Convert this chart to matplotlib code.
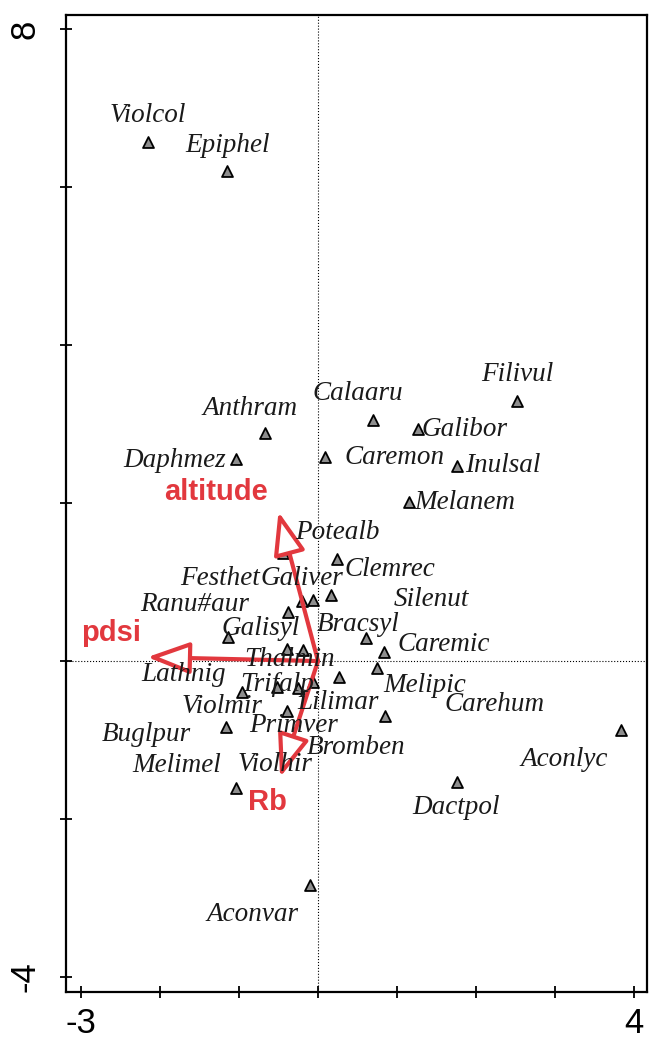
import matplotlib
matplotlib.use("Agg")
import matplotlib.pyplot as plt
import numpy as np

plt.rcParams['axes.unicode_minus'] = False

# species scores (axis 1, axis 2)
species = ["Violcol", "Epiphel", "Filivul", "Calaaru", "Galibor", "Anthram",
           "Daphmez", "Caremon", "Inulsal", "Melanem", "Potealb", "Clemrec",
           "Festhet", "Galiver", "Silenut", "Ranu#aur", "Galisyl", "Bracsyl",
           "Caremic", "Thalmin", "Bromben", "Melipic", "Violhir", "Lathnig",
           "Trifalp", "Primver", "Lilimar", "Violmir", "Carehum", "Buglpur",
           "Melimel", "Aconlyc", "Dactpol", "Aconvar"]
sp_x = [-2.15, -1.15, 2.52, 0.70, 1.27, -0.67,
        -1.04, 0.09, 1.76, 1.15, -0.44, 0.24,
        -0.20, -0.06, 0.17, -0.38, -1.14, 0.61,
        0.83, -0.39, -0.19, 0.75, 0.27, -0.96,
        -0.52, -0.25, -0.06, -0.39, 0.85, -1.16,
        -1.04, 3.84, 1.76, -0.10]
sp_y = [6.57, 6.20, 3.29, 3.05, 2.94, 2.89,
        2.56, 2.58, 2.47, 2.01, 1.37, 1.29,
        0.76, 0.77, 0.84, 0.62, 0.30, 0.29,
        0.11, 0.15, 0.14, -0.09, -0.20, -0.39,
        -0.33, -0.34, -0.27, -0.63, -0.70, -0.84,
        -1.61, -0.87, -1.53, -2.84]

# environmental variables (arrow tips)
env_names = ["altitude", "pdsi", "Rb"]
env_x = [-0.50, -2.16, -0.48]
env_y = [1.89, 0.05, -1.47]

# label placement, pixels from the point
label_off = [(0, 27), (0, 26), (0, 27), (-15, 27), (46, -1), (-15, 24),
             (-61, -2), (69, 0), (46, 0), (56, 0), (54, 20), (53, -10),
             (-82, 23), (-11, 22), (100, -5), (-93, 8), (33, 9), (-8, 14),
             (60, 8), (2, -10), (53, -97), (47, -17), (-64, -88), (-59, 17),
             (0, 3), (-5, -38), (25, -20), (-65, 4), (109, 12), (-80, -7),
             (-59, 23), (-57, -30), (-1, -26), (-58, -29)]
env_off = [(-62, 20), (-36, 24), (-13, -25)]

red = "#e2383e"

fig = plt.figure(figsize=(6.49, 10.44), dpi=100)
ax = fig.add_axes([66 / 649, 1 - 992 / 1044, 581 / 649, 977 / 1044])

ax.set_xlim(-3.19, 4.165)
ax.set_ylim(-4.19, 8.18)

ax.axhline(0, color="black", lw=0.8, ls=":", zorder=1)
ax.axvline(0, color="black", lw=0.8, ls=":", zorder=1)

ax.scatter(sp_x, sp_y, marker="^", s=62, c="#8e8e8e", edgecolors="black",
           linewidths=1.3, zorder=3)

for name, x, y, (dx, dy) in zip(species, sp_x, sp_y, label_off):
    ax.annotate(name, (x, y), xytext=(dx, dy), textcoords="offset pixels",
                ha="center", va="center", fontsize=19.5, style="italic",
                family="Liberation Serif", color="#1a1a1a", zorder=5)

for name, x, y, (dx, dy) in zip(env_names, env_x, env_y, env_off):
    ax.annotate("", xy=(x, y), xytext=(0, 0),
                arrowprops=dict(arrowstyle="-|>,head_length=1.2,head_width=0.45",
                                mutation_scale=22, lw=3, ec=red, fc="white",
                                shrinkA=0, shrinkB=0), zorder=4)
    ax.annotate(name, (x, y), xytext=(dx, dy), textcoords="offset pixels",
                ha="center", va="center", fontsize=21, fontweight="bold",
                family="Liberation Sans", color=red, zorder=6)

# axes frame and ticks
for s in ax.spines.values():
    s.set_linewidth(1.6)
ax.set_xticks(np.arange(-3, 5, 1))
ax.set_xticklabels(["-3", "", "", "", "", "", "", "4"])
ax.set_yticks(np.arange(-4, 9, 2))
ax.set_yticklabels(["-4", "", "", "", "", "", "8"], rotation=90, va="center")
ax.tick_params(direction="inout", length=8, width=1.3, labelsize=25)
ax.tick_params(axis="x", pad=7)
ax.tick_params(axis="y", pad=14)
for lab in ax.get_xticklabels() + ax.get_yticklabels():
    lab.set_family("Liberation Sans")

fig.savefig("out.png", dpi=100)
